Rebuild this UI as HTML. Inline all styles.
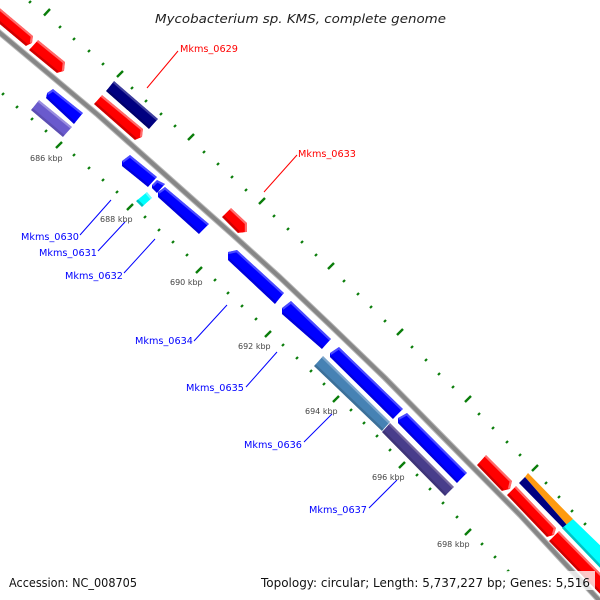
<!DOCTYPE html>
<html><head><meta charset="utf-8">
<style>
html,body{margin:0;padding:0;background:#fff;width:600px;height:600px;overflow:hidden}
svg{display:block}
text{font-family:"DejaVu Sans",sans-serif}
.k{font-size:8px;fill:#444}
.b{font-size:9.7px;fill:#0000ff}
.r{font-size:9.7px;fill:#ff0000}
.t line{stroke:#0a7d0a;stroke-width:2.2}
.tb line{stroke:#0a7d0a;stroke-width:2.4}
.g polyline{fill:none}
.g polyline.u{stroke-width:4.4}
.g polyline.d{stroke-width:5}
.red polyline.u{stroke:#ff6a6a}.red polyline.d{stroke:#d00000}.red polygon{fill:#f00}
.blu polyline.u{stroke:#4a4aff}.blu polyline.d{stroke:#0000dc}.blu polygon{fill:#00f}
.nav polyline.u{stroke:#40409f}.nav polyline.d{stroke:#00006c}.nav polygon{fill:#000080}
.pur polyline.u{stroke:#9a8ee0}.pur polyline.d{stroke:#5c4eb2}.pur polygon{fill:#6a5acd}
.ste polyline.u{stroke:#7aa5cb}.ste polyline.d{stroke:#3c7099}.ste polygon{fill:#4682b4}
.sla polyline.u{stroke:#76689f}.sla polyline.d{stroke:#3e3478}.sla polygon{fill:#483d8b}
.cya polyline.u{stroke:#66ffff}.cya polyline.d{stroke:#00c4c4}.cya polygon{fill:#0ff}
</style></head>
<body>
<svg width="600" height="600" viewBox="0 0 600 600" xmlns="http://www.w3.org/2000/svg">
<defs>
<clipPath id="c1"><polygon points="-5,4 33,36 32,43 26,46 -5,20"/></clipPath>
<clipPath id="c2"><polygon points="38,40 65,62 64,71 57,73 29,50"/></clipPath>
<clipPath id="c3"><polygon points="47,93 53,89 83,113 74,124 46,98"/></clipPath>
<clipPath id="c4"><polygon points="39,100 72,127 63,137 31,110"/></clipPath>
<clipPath id="c5"><polygon points="114,81 158,119 149,129 106,91"/></clipPath>
<clipPath id="c6"><polygon points="102,95 143,129 142,137 135,140 94,104"/></clipPath>
<clipPath id="c7"><polygon points="122,161 130,155 157,177 148,187 122,166"/></clipPath>
<clipPath id="c8"><polygon points="152,185 157,180 165,184 157,193 152,188"/></clipPath>
<clipPath id="c9"><polygon points="158,192 165,187 209,224 199,234 158,197"/></clipPath>
<clipPath id="c10"><polygon points="147,192 152,198 142,207 136,201"/></clipPath>
<clipPath id="c11"><polygon points="231,208 247,223 247,232 238,233 222,217"/></clipPath>
<clipPath id="c12"><polygon points="228,252 237,250 284,293 275,304 228,260"/></clipPath>
<clipPath id="c13"><polygon points="282,308 291,301 331,339 322,349 282,314"/></clipPath>
<clipPath id="c14"><polygon points="330,353 339,347 403,409 393,419 330,357"/></clipPath>
<clipPath id="c15"><polygon points="398,418 407,413 467,473 457,483 398,423"/></clipPath>
<clipPath id="c16"><polygon points="323,356 390,422 382,431 314,366"/></clipPath>
<clipPath id="c17"><polygon points="390,423 454,487 445,496 382,432"/></clipPath>
<clipPath id="c18"><polygon points="486,455 512,481 510,489 502,491 477,465"/></clipPath>
<clipPath id="c19"><polygon points="516,486 556,528 554,535 547,537 507,495"/></clipPath>
<clipPath id="c20"><polygon points="559,531 606,579 606,600 549,541"/></clipPath>
<clipPath id="c21"><polygon points="573,519 606,551 606,574 562,528"/></clipPath>
</defs>
<rect width="600" height="600" fill="#fff"/>
<path d="M-6,28 L0,33 L98,115 L193,199.5 L233,235 L280,277.5 L330,325 L385,378 L440,434 L520,515 L597,598 L606,608" fill="none" stroke="#b8b8b8" stroke-width="6" stroke-linejoin="round"/>
<path d="M-6,28 L0,33 L98,115 L193,199.5 L233,235 L280,277.5 L330,325 L385,378 L440,434 L520,515 L597,598 L606,608" fill="none" stroke="#868686" stroke-width="4" stroke-linejoin="round"/>

<g class="t">
<line x1="29" y1="3" x2="31" y2="1"/><line x1="59" y1="28" x2="61" y2="26"/><line x1="73" y1="40" x2="75" y2="38"/><line x1="88" y1="52" x2="90" y2="50"/><line x1="102" y1="65" x2="104" y2="63"/><line x1="131" y1="89" x2="133" y2="87"/><line x1="145" y1="102" x2="147" y2="100"/><line x1="160" y1="115" x2="162" y2="113"/><line x1="174" y1="127" x2="176" y2="125"/><line x1="203" y1="153" x2="205" y2="151"/><line x1="217" y1="165" x2="219" y2="163"/><line x1="231" y1="178" x2="233" y2="176"/><line x1="245" y1="191" x2="247" y2="189"/><line x1="273" y1="217" x2="275" y2="215"/><line x1="287" y1="230" x2="289" y2="228"/><line x1="301" y1="243" x2="303" y2="241"/><line x1="315" y1="256" x2="317" y2="254"/><line x1="343" y1="282" x2="345" y2="280"/><line x1="357" y1="295" x2="359" y2="293"/><line x1="370" y1="308" x2="372" y2="306"/><line x1="384" y1="322" x2="386" y2="320"/><line x1="411" y1="348" x2="413" y2="346"/><line x1="425" y1="361" x2="427" y2="359"/><line x1="438" y1="375" x2="440" y2="373"/><line x1="452" y1="388" x2="454" y2="386"/><line x1="478" y1="415" x2="480" y2="413"/><line x1="492" y1="429" x2="494" y2="427"/><line x1="506" y1="443" x2="508" y2="441"/><line x1="519" y1="456" x2="521" y2="454"/><line x1="545" y1="484" x2="547" y2="482"/><line x1="558" y1="498" x2="560" y2="496"/><line x1="571" y1="512" x2="573" y2="510"/><line x1="584" y1="525" x2="586" y2="523"/>
<line x1="2" y1="95" x2="4" y2="93"/><line x1="16" y1="108" x2="18" y2="106"/><line x1="31" y1="120" x2="33" y2="118"/><line x1="45" y1="132" x2="47" y2="130"/><line x1="73" y1="156" x2="75" y2="154"/><line x1="88" y1="169" x2="90" y2="167"/><line x1="102" y1="181" x2="104" y2="179"/><line x1="116" y1="193" x2="118" y2="191"/><line x1="144" y1="218" x2="146" y2="216"/><line x1="158" y1="231" x2="160" y2="229"/><line x1="172" y1="243" x2="174" y2="241"/><line x1="186" y1="256" x2="188" y2="254"/><line x1="214" y1="281" x2="216" y2="279"/><line x1="227" y1="294" x2="229" y2="292"/><line x1="241" y1="307" x2="243" y2="305"/><line x1="255" y1="320" x2="257" y2="318"/><line x1="282" y1="346" x2="284" y2="344"/><line x1="296" y1="359" x2="298" y2="357"/><line x1="310" y1="372" x2="312" y2="370"/><line x1="323" y1="385" x2="325" y2="383"/><line x1="350" y1="411" x2="352" y2="409"/><line x1="363" y1="424" x2="365" y2="422"/><line x1="376" y1="437" x2="378" y2="435"/><line x1="389" y1="451" x2="391" y2="449"/><line x1="416" y1="476" x2="418" y2="474"/><line x1="429" y1="490" x2="431" y2="488"/><line x1="442" y1="504" x2="444" y2="502"/><line x1="456" y1="518" x2="458" y2="516"/><line x1="481" y1="545" x2="483" y2="543"/><line x1="494" y1="558" x2="496" y2="556"/><line x1="507" y1="572" x2="509" y2="570"/>
</g>
<g class="tb">
<line x1="44" y1="15.5" x2="50" y2="9"/><line x1="117" y1="77" x2="123" y2="71"/><line x1="188" y1="140" x2="194" y2="134"/><line x1="259" y1="204" x2="265" y2="198"/><line x1="328" y1="269" x2="334" y2="263"/><line x1="397" y1="335" x2="403" y2="329"/><line x1="465" y1="402" x2="471" y2="396"/><line x1="532" y1="471" x2="538" y2="465"/>
<line x1="56" y1="148" x2="62" y2="142"/><line x1="127" y1="210" x2="133" y2="204"/><line x1="196" y1="273" x2="202" y2="267"/><line x1="265" y1="337" x2="271" y2="331"/><line x1="333" y1="402" x2="339" y2="396"/><line x1="399" y1="468" x2="405" y2="462"/><line x1="465" y1="535" x2="471" y2="529"/>
</g>

<g class="g red" clip-path="url(#c1)"><polygon points="-5,4 33,36 32,43 26,46 -5,20"/><polyline class="d" points="-5,20 26,46"/><polyline class="u" points="-5,4 33,36 32,43"/></g>
<g class="g red" clip-path="url(#c2)"><polygon points="38,40 65,62 64,71 57,73 29,50"/><polyline class="d" points="29,50 57,73"/><polyline class="u" points="38,40 65,62 64,71"/></g>
<g class="g blu" clip-path="url(#c3)"><polygon points="47,93 53,89 83,113 74,124 46,98"/><polyline class="d" points="46,98 74,124"/><polyline class="u" points="47,93 53,89 83,113"/></g>
<g class="g pur" clip-path="url(#c4)"><polygon points="39,100 72,127 63,137 31,110"/><polyline class="d" points="31,110 63,137"/><polyline class="u" points="39,100 72,127"/></g>
<g class="g nav" clip-path="url(#c5)"><polygon points="114,81 158,119 149,129 106,91"/><polyline class="d" points="106,91 149,129"/><polyline class="u" points="114,81 158,119"/></g>
<g class="g red" clip-path="url(#c6)"><polygon points="102,95 143,129 142,137 135,140 94,104"/><polyline class="d" points="94,104 135,140"/><polyline class="u" points="102,95 143,129 142,137"/></g>
<g class="g blu" clip-path="url(#c7)"><polygon points="122,161 130,155 157,177 148,187 122,166"/><polyline class="d" points="122,166 148,187"/><polyline class="u" points="122,161 130,155 157,177"/></g>
<g class="g blu" clip-path="url(#c8)"><polygon points="152,185 157,180 165,184 157,193 152,188"/><polyline class="d" points="152,188 157,193"/><polyline class="u" points="152,185 157,180 165,184"/></g>
<g class="g blu" clip-path="url(#c9)"><polygon points="158,192 165,187 209,224 199,234 158,197"/><polyline class="d" points="158,197 199,234"/><polyline class="u" points="158,192 165,187 209,224"/></g>
<g class="g cya" clip-path="url(#c10)"><polygon points="147,192 152,198 142,207 136,201"/><polyline class="d" points="136,201 142,207"/><polyline class="u" points="147,192 152,198"/></g>
<g class="g red" clip-path="url(#c11)"><polygon points="231,208 247,223 247,232 238,233 222,217"/><polyline class="d" points="222,217 238,233"/><polyline class="u" points="231,208 247,223 247,232"/></g>
<g class="g blu" clip-path="url(#c12)"><polygon points="228,252 237,250 284,293 275,304 228,260"/><polyline class="d" points="228,260 275,304"/><polyline class="u" points="228,252 237,250 284,293"/></g>
<g class="g blu" clip-path="url(#c13)"><polygon points="282,308 291,301 331,339 322,349 282,314"/><polyline class="d" points="282,314 322,349"/><polyline class="u" points="282,308 291,301 331,339"/></g>
<g class="g blu" clip-path="url(#c14)"><polygon points="330,353 339,347 403,409 393,419 330,357"/><polyline class="d" points="330,357 393,419"/><polyline class="u" points="330,353 339,347 403,409"/></g>
<g class="g blu" clip-path="url(#c15)"><polygon points="398,418 407,413 467,473 457,483 398,423"/><polyline class="d" points="398,423 457,483"/><polyline class="u" points="398,418 407,413 467,473"/></g>
<g class="g ste" clip-path="url(#c16)"><polygon points="323,356 390,422 382,431 314,366"/><polyline class="d" points="314,366 382,431"/><polyline class="u" points="323,356 390,422"/></g>
<g class="g sla" clip-path="url(#c17)"><polygon points="390,423 454,487 445,496 382,432"/><polyline class="d" points="382,432 445,496"/><polyline class="u" points="390,423 454,487"/></g>
<g class="g red" clip-path="url(#c18)"><polygon points="486,455 512,481 510,489 502,491 477,465"/><polyline class="d" points="477,465 502,491"/><polyline class="u" points="486,455 512,481 510,489"/></g>
<g class="g red" clip-path="url(#c19)"><polygon points="516,486 556,528 554,535 547,537 507,495"/><polyline class="d" points="507,495 547,537"/><polyline class="u" points="516,486 556,528 554,535"/></g>
<g class="g red" clip-path="url(#c20)"><polygon points="559,531 606,579 606,600 549,541"/><polyline class="d" points="549,541 606,600"/><polyline class="u" points="559,531 606,579"/></g>
<polygon points="528,473 573,519 567,525 525,477" fill="#ff9a10"/>
<polygon points="519,483 525,477 567,525 563,528" fill="#000080"/>
<g class="g cya" clip-path="url(#c21)"><polygon points="573,519 606,551 606,574 562,528"/><polyline class="d" points="562,528 606,574"/></g>

<rect x="255" y="571" width="340" height="19" fill="#fff" fill-opacity="0.78"/>

<g stroke-width="1" fill="none">
<g stroke="#ff0000"><line x1="147" y1="88" x2="178" y2="51"/><line x1="264" y1="192" x2="297" y2="155"/></g>
<g stroke="#0000ff"><line x1="80" y1="235" x2="111" y2="200"/><line x1="98" y1="251" x2="125" y2="222"/><line x1="124" y1="273" x2="155" y2="239"/><line x1="194" y1="341" x2="227" y2="305"/><line x1="246" y1="387" x2="277" y2="352"/><line x1="304" y1="442" x2="332" y2="414"/><line x1="369" y1="508" x2="397" y2="480"/></g>
</g>

<text class="k" x="30" y="161">686 kbp</text>
<text class="k" x="100" y="222">688 kbp</text>
<text class="k" x="170" y="285">690 kbp</text>
<text class="k" x="238" y="349">692 kbp</text>
<text class="k" x="305" y="414">694 kbp</text>
<text class="k" x="372" y="480">696 kbp</text>
<text class="k" x="437" y="547">698 kbp</text>

<text class="r" x="180" y="52">Mkms_0629</text>
<text class="r" x="298" y="157">Mkms_0633</text>
<text class="b" x="21" y="240">Mkms_0630</text>
<text class="b" x="39" y="256">Mkms_0631</text>
<text class="b" x="65" y="279">Mkms_0632</text>
<text class="b" x="135" y="344">Mkms_0634</text>
<text class="b" x="186" y="391">Mkms_0635</text>
<text class="b" x="244" y="448">Mkms_0636</text>
<text class="b" x="309" y="513">Mkms_0637</text>

<text x="155" y="23" font-size="12.4" font-style="italic" fill="#222" textLength="291" lengthAdjust="spacingAndGlyphs">Mycobacterium sp. KMS, complete genome</text>
<text x="9" y="587" font-size="12" fill="#111" textLength="128" lengthAdjust="spacingAndGlyphs">Accession: NC_008705</text>
<text x="261" y="587" font-size="12" fill="#111" textLength="329" lengthAdjust="spacingAndGlyphs">Topology: circular; Length: 5,737,227 bp; Genes: 5,516</text>
</svg>
</body></html>
